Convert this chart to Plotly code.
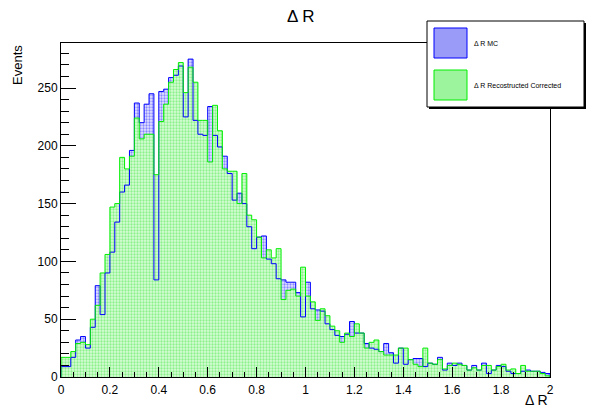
import numpy as np
import plotly.graph_objects as go

# Histogram binning: 100 bins over [0, 2]
x_min, x_max, n_bins = 0.0, 2.0, 100

# Delta R, MC truth (counts per bin)
mc_counts = [
    9, 9, 17, 32, 35, 25, 43, 79, 54, 90,
    108, 134, 160, 166, 196, 237, 220, 236, 245, 84,
    247, 249, 259, 261, 269, 225, 275, 222, 210, 209,
    234, 209, 199, 191, 176, 153, 159, 150, 130, 111,
    121, 122, 102, 98, 85, 84, 82, 82, 73, 52,
    82, 59, 58, 57, 46, 41, 36, 35, 37, 48,
    38, 38, 29, 25, 24, 22, 29, 21, 12, 25,
    11, 15, 16, 16, 9, 12, 11, 17, 6, 12,
    10, 12, 10, 6, 10, 6, 12, 3, 6, 10,
    9, 5, 3, 3, 5, 6, 5, 5, 4, 3,
]

# Delta R, reconstructed and corrected (counts per bin)
reco_counts = [
    17, 17, 22, 29, 30, 28, 50, 62, 90, 106,
    147, 150, 190, 180, 191, 224, 206, 210, 210, 175,
    221, 236, 255, 266, 272, 246, 268, 255, 222, 222,
    186, 235, 213, 180, 178, 178, 150, 176, 140, 136,
    121, 103, 110, 103, 111, 67, 75, 76, 70, 95,
    70, 65, 49, 59, 53, 44, 40, 30, 38, 35,
    46, 38, 25, 30, 32, 22, 19, 19, 19, 25,
    25, 15, 11, 9, 25, 12, 11, 15, 7, 10,
    12, 11, 10, 6, 8, 6, 10, 10, 6, 9,
    11, 6, 7, 3, 10, 5, 5, 5, 3, 1,
]

x_tick_vals = [0, 0.2, 0.4, 0.6, 0.8, 1.0, 1.2, 1.4, 1.6, 1.8, 2.0]
x_tick_text = ["0", "0.2", "0.4", "0.6", "0.8", "1", "1.2", "1.4", "1.6", "1.8", "2"]
y_tick_vals = [0, 50, 100, 150, 200, 250]

FONT = "Liberation Sans, Arial, Helvetica, sans-serif"
W, H = 601, 410
L, R, T, B = 61, 51, 43, 33          # frame margins in pixels
PW, PH = W - L - R, H - T - B


def px(xp):
    return (xp - L) / PW


def py(yp):
    return (H - B - yp) / PH


edges = np.linspace(x_min, x_max, n_bins + 1)


def step_xy(counts):
    xs = [edges[0]] + list(edges) + [edges[-1]]
    ys = [0] + list(counts) + [counts[-1], 0]
    return xs, ys


BLUE = "#0000ff"
GREEN = "#00ee00"

fig = go.Figure()

bx, by = step_xy(mc_counts)
gx, gy = step_xy(reco_counts)

# filled areas
fig.add_trace(go.Scatter(
    x=bx, y=by, mode="lines", line=dict(width=0, shape="hv"),
    fill="tozeroy", fillcolor="white",
    fillpattern=dict(shape=".", fgcolor="#2a2aff", bgcolor="#e4e4ff",
                     size=3, solidity=0.45),
    hoverinfo="skip", showlegend=False,
))
fig.add_trace(go.Scatter(
    x=gx, y=gy, mode="lines", line=dict(width=0, shape="hv"),
    fill="tozeroy", fillcolor="white",
    fillpattern=dict(shape=".", fgcolor="#3ee63e", bgcolor="#d8fcd8",
                     size=3, solidity=0.45),
    hoverinfo="skip", showlegend=False,
))
# outlines
fig.add_trace(go.Scatter(
    x=bx, y=by, mode="lines", line=dict(color=BLUE, width=1, shape="hv"),
    hoverinfo="skip", showlegend=False,
))
fig.add_trace(go.Scatter(
    x=gx, y=gy, mode="lines", line=dict(color=GREEN, width=1, shape="hv"),
    hoverinfo="skip", showlegend=False,
))

axis_common = dict(
    showgrid=False, zeroline=False, showline=True, mirror=True,
    linecolor="black", linewidth=1, ticks="inside", tickcolor="black",
    tickwidth=1, tickfont=dict(family=FONT, size=12, color="black"),
)

fig.update_xaxes(
    range=[x_min, x_max], tickvals=x_tick_vals, ticktext=x_tick_text,
    ticklen=10, ticklabelstandoff=2,
    minor=dict(dtick=0.05, tick0=0, ticks="inside", ticklen=5,
               tickcolor="black", tickwidth=1),
    **axis_common,
)
fig.update_yaxes(
    range=[0, (H - B - T) / 1.156], tickvals=y_tick_vals,
    ticklen=15,
    minor=dict(dtick=10, tick0=0, ticks="inside", ticklen=8,
               tickcolor="black", tickwidth=1),
    **axis_common,
)

shapes = [
    # legend box with shadow
    dict(type="rect", xref="paper", yref="paper",
         x0=px(429), x1=px(586), y0=py(109), y1=py(23),
         line=dict(width=0), fillcolor="black", layer="above"),
    dict(type="rect", xref="paper", yref="paper",
         x0=px(427), x1=px(584), y0=py(107), y1=py(21),
         line=dict(color="black", width=1), fillcolor="white", layer="above"),
    # legend swatches
    dict(type="rect", xref="paper", yref="paper",
         x0=px(434), x1=px(467), y0=py(58), y1=py(28),
         line=dict(color=BLUE, width=1), fillcolor="#9a9af8", layer="above"),
    dict(type="rect", xref="paper", yref="paper",
         x0=px(434), x1=px(467), y0=py(100), y1=py(70),
         line=dict(color=GREEN, width=1), fillcolor="#9cf59c", layer="above"),
]

annotations = [
    dict(text="Δ R", x=px(300), y=py(17), xref="paper", yref="paper",
         xanchor="center", yanchor="middle", showarrow=False,
         font=dict(family=FONT, size=17, color="black")),
    dict(text="Δ R", x=px(550), y=py(400), xref="paper", yref="paper",
         xanchor="right", yanchor="middle", showarrow=False,
         font=dict(family=FONT, size=14, color="black")),
    dict(text="Events", x=px(17), y=py(43), xref="paper", yref="paper",
         xanchor="center", yanchor="top", textangle=-90, showarrow=False,
         font=dict(family=FONT, size=13, color="black")),
    dict(text="Δ R MC", x=px(472), y=py(43), xref="paper", yref="paper",
         xanchor="left", yanchor="middle", showarrow=False,
         font=dict(family=FONT, size=7, color="black")),
    dict(text="Δ R Recostructed Corrected", x=px(472), y=py(86),
         xref="paper", yref="paper", xanchor="left", yanchor="middle",
         showarrow=False, font=dict(family=FONT, size=7, color="black")),
]

fig.update_layout(
    width=W, height=H,
    margin=dict(l=L, r=R, t=T, b=B, pad=0),
    paper_bgcolor="white", plot_bgcolor="white",
    showlegend=False,
    shapes=shapes, annotations=annotations,
    font=dict(family=FONT, color="black"),
)

fig.write_html("out.html")
